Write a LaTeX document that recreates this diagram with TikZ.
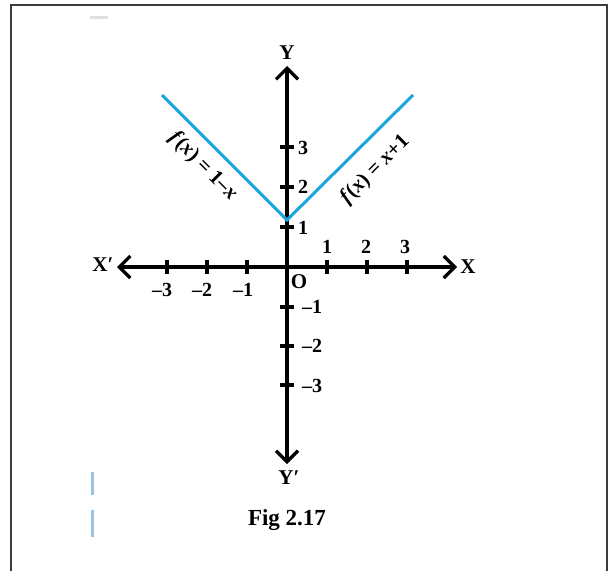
\documentclass[tikz,border=0pt]{standalone}
\usepackage{fontspec}
\setmainfont{Liberation Serif}
\usetikzlibrary{arrows.meta}
\definecolor{fblue}{RGB}{28,164,222}
\definecolor{frame}{RGB}{60,60,60}
\definecolor{artblue}{RGB}{150,198,228}
\tikzset{
  axis/.style={line width=3.2pt, -{Straight Barb[length=11pt,width=22pt,line width=3.2pt]}},
  tick/.style={line width=3.2pt},
  graph/.style={fblue, line width=3pt},
  lab/.style={font=\fontsize{21}{23}\selectfont\bfseries, inner sep=0pt},
  num/.style={font=\fontsize{20}{22}\selectfont\bfseries, inner sep=0pt},
  flab/.style={font=\fontsize{21}{23}\selectfont\bfseries, inner sep=0pt},
}
\begin{document}
\begin{tikzpicture}[x=1pt,y=-1pt]
\useasboundingbox (0,0) rectangle (612,570);
% frame
\draw[frame, line width=1.8pt] (11,575) -- (11,5) -- (607,5) -- (607,575);
% artifacts
\fill[gray!25] (90,16) rectangle (108,18.5);
\fill[artblue] (91,472) rectangle (93.5,495);
\fill[artblue] (91,510) rectangle (93.5,537);
% coordinates
\coordinate (O) at (287,267);
\coordinate (xl) at (117,267);
\coordinate (xr) at (457,267);
\coordinate (yt) at (287,66);
\coordinate (yb) at (287,464);
% axes
\draw[axis] (O) -- (xr);
\draw[axis] (O) -- (xl);
\draw[axis] (O) -- (yt);
\draw[axis] (O) -- (yb);
% ticks
\foreach \xx in {167,207,247,327,367,407}{
  \draw[tick] (\xx,260) -- (\xx,274);
}
\foreach \yy in {147,187,227,307,346,385}{
  \draw[tick] (280,\yy) -- (294,\yy);
}
% graph
\coordinate (V) at (287,220);
\coordinate (L) at (162,95);
\coordinate (R) at (413,95);
\draw[graph] (L) -- (V) -- (R);
% axis labels
\node[lab] (X1) at (103,265) {X′};
\node[lab] (X) at (468,267) {X};
\node[lab] (Y) at (287,53) {Y};
\node[lab] (Y1) at (289,478) {Y′};
\node[lab] (O1) at (299,282) {O};
\node[font=\fontsize{23}{25}\selectfont\bfseries, inner sep=0pt] (fig) at (287,520) {Fig 2.17};
% tick labels
\node[num] (xm3) at (162,290) {–3};
\node[num] (xm2) at (202,290) {–2};
\node[num] (xm1) at (243,290) {–1};
\node[num] (xp1) at (327,247) {1};
\node[num] (xp2) at (366,247) {2};
\node[num] (xp3) at (405,247) {3};
\node[num] (yp1) at (303,228) {1};
\node[num] (yp2) at (303,187) {2};
\node[num] (yp3) at (303,148) {3};
\node[num] (ym1) at (312,307) {–1};
\node[num] (ym2) at (312,346) {–2};
\node[num] (ym3) at (312,386) {–3};
% function labels
\node[flab, rotate=-45] (fl) at (203,166) {\textit{f}(\textit{x}) = 1–\textit{x}};
\node[flab, rotate=45] (fr) at (375,170) {\textit{f}(\textit{x}) = \textit{x}+1};
\end{tikzpicture}
\end{document}
